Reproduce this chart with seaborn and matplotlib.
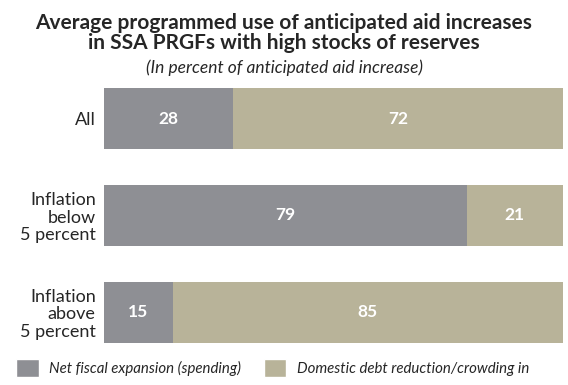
import matplotlib
matplotlib.use("Agg")
import matplotlib.pyplot as plt
import seaborn as sns
import pandas as pd
from matplotlib.patches import Patch

sns.set_style("white")
plt.rcParams['font.family'] = ['Lato', 'DejaVu Sans']

categories = ["All", "Inflation\nbelow\n5 percent", "Inflation\nabove\n5 percent"]
spending = [28, 79, 15]
debt = [72, 21, 85]
series_names = ["Net fiscal expansion (spending)", "Domestic debt reduction/crowding in"]

gray = "#8e8f94"
khaki = "#b8b399"

df = pd.DataFrame({"cat": categories, "spending": spending, "debt": debt})
df["total"] = df["spending"] + df["debt"]

fig = plt.figure(figsize=(5.68, 3.85), dpi=100)
ax = fig.add_axes([104/568, 1-343/385, (563-104)/568, (343-88)/385])

sns.barplot(data=df, x="total", y="cat", color=khaki, orient="h", width=0.63, ax=ax,
            saturation=1, linewidth=0, edgecolor="none")
sns.barplot(data=df, x="spending", y="cat", color=gray, orient="h", width=0.63, ax=ax,
            saturation=1, linewidth=0, edgecolor="none")

for i, (s, d) in enumerate(zip(spending, debt)):
    ax.text(s/2, i, str(s), ha="center", va="center", color="white", fontsize=12.5, fontweight="bold")
    ax.text(s + d/2, i, str(d), ha="center", va="center", color="white", fontsize=12.5, fontweight="bold")

ax.set_xlim(0, 100)
ax.set_ylim(2.315, -0.315)
ax.set_xlabel("")
ax.set_ylabel("")
ax.set_xticks([])
for sp in ax.spines.values():
    sp.set_visible(False)
ax.tick_params(axis="y", length=0, pad=6, labelsize=13)
for lab in ax.get_yticklabels():
    lab.set_horizontalalignment("right")
    lab.set_multialignment("right")
    lab.set_linespacing(1.08)

fig.text(0.5, 1-33/385, "Average programmed use of anticipated aid increases\nin SSA PRGFs with high stocks of reserves",
         ha="center", va="center", fontsize=15, fontweight="bold", linespacing=1.03)
fig.text(0.5, 1-68/385, "(In percent of anticipated aid increase)", ha="center", va="center",
         fontsize=12.5, style="italic")

handles = [Patch(facecolor=gray), Patch(facecolor=khaki)]
fig.legend(handles, series_names, loc="center left", bbox_to_anchor=(0.005, 1-368/385), ncol=2,
           frameon=False, prop={"style": "italic", "size": 10.8}, handlelength=1.5, handleheight=1.5,
           columnspacing=1.5, handletextpad=0.7)

fig.savefig("out.png", dpi=100)
